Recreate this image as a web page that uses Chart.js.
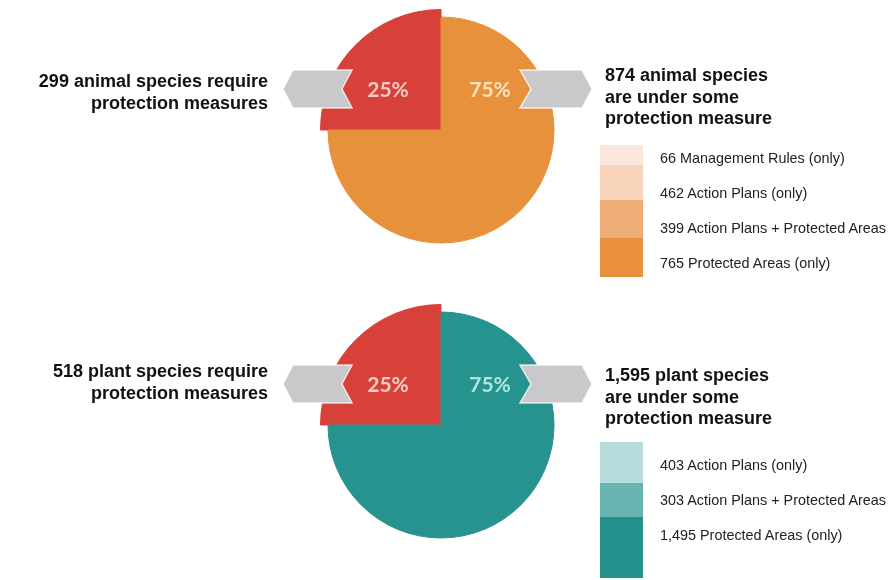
<!DOCTYPE html>
<html>
<head>
<meta charset="utf-8">
<script src="https://cdn.jsdelivr.net/npm/chart.js@4/dist/chart.umd.min.js"></script>
<style>
  body { margin: 0; background: #fff; font-family: "Liberation Sans", Arial, sans-serif; }
  #wrap { position: relative; width: 890px; height: 580px; overflow: hidden; }
  canvas { position: absolute; left: 0; }
  .need { position: absolute; right: 622px; text-align: right; font-weight: bold; font-size: 18px; line-height: 22px; color: #111; white-space: nowrap; }
  .under { position: absolute; left: 605px; font-weight: bold; font-size: 18px; line-height: 21.5px; color: #111; white-space: nowrap; }
  .swatches { position: absolute; left: 600px; width: 43px; }
  .swatches div { width: 43px; }
  .rows { position: absolute; left: 660px; font-size: 14.4px; line-height: 35px; color: #222; white-space: nowrap; }
</style>
</head>
<body>
<div id="wrap"></div>
<script>
// share of species: [require protection, under some protection] in %
const animalShare = [25, 75];
const plantShare = [25, 75];

// species counts: [require protection, under some protection]
const animalCounts = [299, 874];
const plantCounts = [518, 1595];

// breakdown of the protected species
const animalMeasures = ['Management Rules (only)', 'Action Plans (only)', 'Action Plans + Protected Areas', 'Protected Areas (only)'];
const animalMeasureCounts = [66, 462, 399, 765];
const plantMeasures = ['Action Plans (only)', 'Action Plans + Protected Areas', 'Protected Areas (only)'];
const plantMeasureCounts = [403, 303, 1495];

const fmt = n => n.toLocaleString('en-US');
const RED = '#d8403a';

// gray arrow banners + percentage labels, drawn relative to the pie centre
const bannerPlugin = {
  id: 'banners',
  afterDatasetsDraw(chart, args, opts) {
    const arc = chart.getDatasetMeta(1).data[1];
    const { x, y } = arc;
    const ctx = chart.ctx;
    const shapes = [
      [[-158, -41], [-148, -60], [-89, -60], [-99, -41], [-89, -22], [-148, -22]],
      [[79, -60], [141, -60], [151, -41], [141, -22], [79, -22], [90, -41]]
    ];
    ctx.save();
    shapes.forEach(pts => {
      ctx.beginPath();
      pts.forEach(([px, py], i) => i ? ctx.lineTo(x + px, y + py) : ctx.moveTo(x + px, y + py));
      ctx.closePath();
      ctx.fillStyle = '#c9c9cb';
      ctx.fill();
      ctx.strokeStyle = 'rgba(255,255,255,0.75)';
      ctx.lineWidth = 1.5;
      ctx.stroke();
    });
    const share = chart.data.datasets[1].data;
    ctx.font = 'bold 21px Lato, "Open Sans", sans-serif';
    ctx.textAlign = 'center';
    ctx.textBaseline = 'middle';
    ctx.fillStyle = opts.labelColors[0];
    ctx.fillText(share[0] + '%', x - 53, y - 40);
    ctx.fillStyle = opts.labelColors[1];
    ctx.fillText(share[1] + '%', x + 49, y - 40);
    ctx.restore();
  }
};

function makePanel(p) {
  const wrap = document.getElementById('wrap');
  const canvas = document.createElement('canvas');
  canvas.width = 890;
  canvas.height = 290;
  canvas.style.top = p.top + 'px';
  wrap.appendChild(canvas);

  const box = 121;
  new Chart(canvas, {
    type: 'doughnut',
    data: {
      labels: ['require protection', 'under some protection'],
      datasets: [{
        // thin outer ring: only the red quarter reaches out here
        data: p.share,
        backgroundColor: [RED, 'rgba(0,0,0,0)'],
        borderColor: [RED, 'rgba(0,0,0,0)'],
        borderWidth: [1, 0],
        weight: 7.5
      }, {
        data: p.share,
        backgroundColor: [RED, p.color],
        borderColor: [RED, p.color],
        borderWidth: 1,
        weight: 113
      }]
    },
    options: {
      responsive: false,
      animation: false,
      events: [],
      cutout: 0,
      rotation: -90,
      layout: { padding: { left: p.cx - box, top: p.cy - box, right: 890 - p.cx - box, bottom: 290 - p.cy - box } },
      plugins: {
        legend: { display: false },
        tooltip: { enabled: false },
        banners: { labelColors: p.labelColors }
      }
    },
    plugins: [bannerPlugin]
  });

  const need = document.createElement('div');
  need.className = 'need';
  need.style.top = (p.top + p.needTop) + 'px';
  need.innerHTML = fmt(p.counts[0]) + ' ' + p.kind + ' species require<br>protection measures';
  wrap.appendChild(need);

  const under = document.createElement('div');
  under.className = 'under';
  under.style.top = (p.top + p.underTop) + 'px';
  under.innerHTML = fmt(p.counts[1]) + ' ' + p.kind + ' species<br>are under some<br>protection measure';
  wrap.appendChild(under);

  const sw = document.createElement('div');
  sw.className = 'swatches';
  sw.style.top = (p.top + p.swatchTop) + 'px';
  p.swatchColors.forEach((c, i) => {
    const d = document.createElement('div');
    d.style.background = c;
    d.style.height = p.swatchHeights[i] + 'px';
    sw.appendChild(d);
  });
  wrap.appendChild(sw);

  const rows = document.createElement('div');
  rows.className = 'rows';
  rows.style.top = (p.top + p.rowsTop) + 'px';
  rows.innerHTML = p.measures.map((m, i) => fmt(p.measureCounts[i]) + ' ' + m).join('<br>');
  wrap.appendChild(rows);
}

makePanel({
  top: 0, cx: 441, cy: 130,
  kind: 'animal', share: animalShare, counts: animalCounts,
  measures: animalMeasures, measureCounts: animalMeasureCounts,
  color: '#e8913c', labelColors: ['#f6cdc6', '#fce3bf'],
  swatchColors: ['#fbe7dc', '#f8d4bd', '#efad78', '#e9903e'],
  swatchHeights: [20, 35, 38, 39],
  needTop: 70, underTop: 65, swatchTop: 145, rowsTop: 141
});

makePanel({
  top: 290, cx: 441, cy: 135,
  kind: 'plant', share: plantShare, counts: plantCounts,
  measures: plantMeasures, measureCounts: plantMeasureCounts,
  color: '#26938f', labelColors: ['#f6cdc6', '#b0e6e2'],
  swatchColors: ['#b7dcdc', '#68b4b0', '#25918c'],
  swatchHeights: [41, 34, 61],
  needTop: 70, underTop: 75, swatchTop: 152, rowsTop: 158
});
</script>
</body>
</html>
